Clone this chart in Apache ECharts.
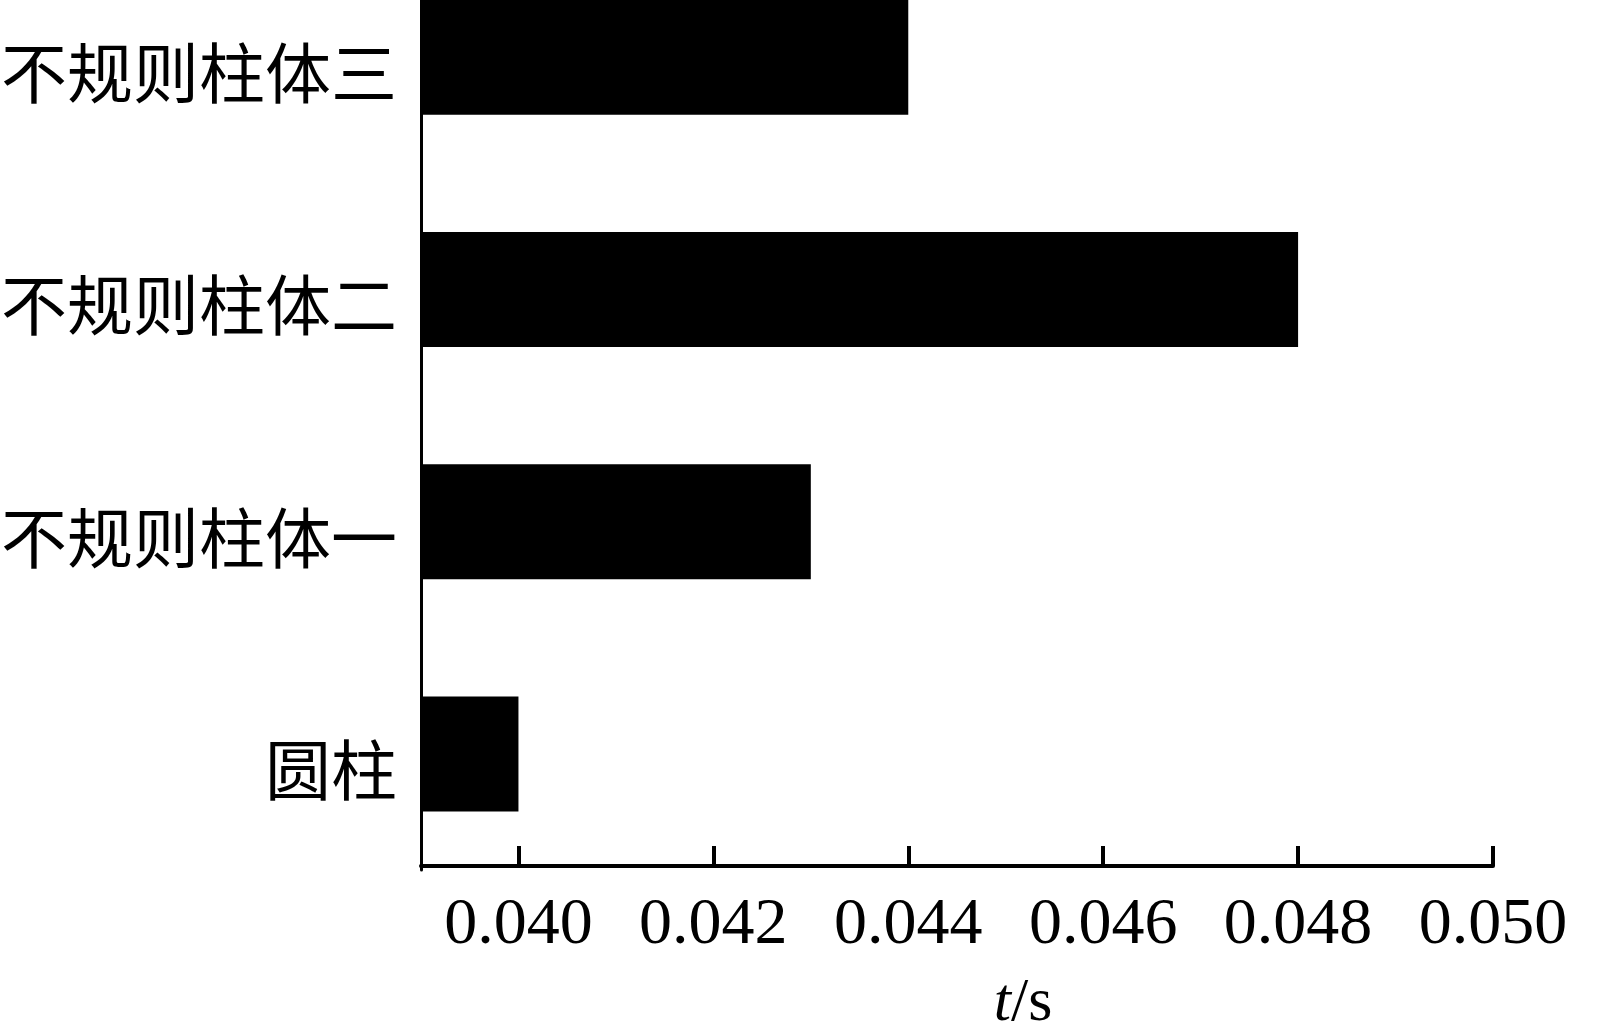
<!DOCTYPE html>
<html>
<head>
<meta charset="utf-8">
<title>t/s</title>
<script src="https://cdn.jsdelivr.net/npm/echarts@6/dist/echarts.min.js"></script>
<style>
	html, body {margin: 0; padding: 0; background: #fff;}
	#main {width: 1597px; height: 1024px;}
</style>
</head>
<body>
<div id="main"></div>
<script>
// 类别（从下到上）
var categories = ['圆柱', '不规则柱体一', '不规则柱体二', '不规则柱体三'];
// 时间 t/s
var times = [0.0400, 0.0430, 0.0480, 0.0440];
// x轴刻度
var tickValues = [0.040, 0.042, 0.044, 0.046, 0.048, 0.050];

var myChart = echarts.init(document.getElementById('main'));

myChart.setOption({
	backgroundColor: '#fff',
	animation: false,
	grid: {
		left: 421,
		right: 104,
		top: -59,
		bottom: 154,
		containLabel: false,
		outerBoundsMode: 'none'
	},
	xAxis: {
		type: 'value',
		min: 0.039,
		max: 0.050,
		offset: -4,
		splitLine: {show: false},
		axisLine: {show: true, lineStyle: {color: '#000', width: 4}},
		axisTick: {
			show: true,
			inside: true,
			length: 20,
			lineStyle: {color: '#000', width: 4},
			customValues: tickValues
		},
		axisLabel: {
			customValues: tickValues,
			color: '#000',
			fontFamily: 'Liberation Serif',
			fontSize: 66,
			margin: 27,
			formatter: function (v) {
				return v.toFixed(3);
			}
		},
		name: '{i|t}/s',
		nameLocation: 'middle',
		nameGap: 107,
		nameTextStyle: {
			color: '#000',
			fontFamily: 'Liberation Serif',
			fontSize: 62,
			padding: [0, 0, 0, 132],
			rich: {
				i: {
					fontStyle: 'italic',
					fontFamily: 'Liberation Serif',
					fontSize: 62,
					color: '#000'
				}
			}
		}
	},
	yAxis: {
		type: 'category',
		data: categories,
		axisLine: {lineStyle: {color: '#000', width: 3}},
		axisTick: {show: false},
		axisLabel: {
			color: '#000',
			fontFamily: 'Noto Sans CJK SC',
			fontSize: 66,
			margin: 24,
			verticalAlign: 'top',
			lineHeight: 32
		}
	},
	series: [
		{
			type: 'bar',
			data: times,
			barWidth: 115,
			itemStyle: {color: '#000'}
		}
	]
});
</script>
</body>
</html>
